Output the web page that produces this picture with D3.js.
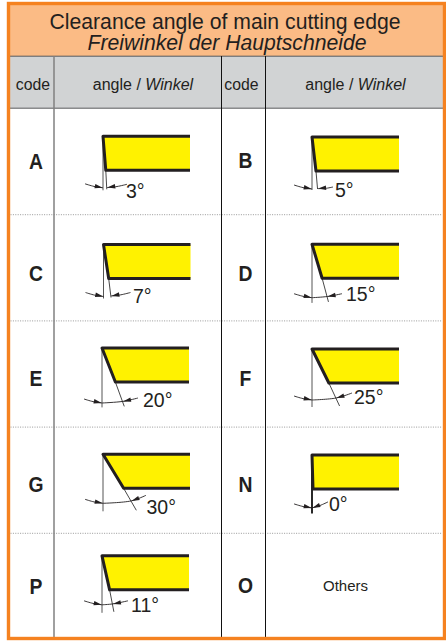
<!DOCTYPE html>
<html><head><meta charset="utf-8">
<script src="https://cdn.jsdelivr.net/npm/d3@7/dist/d3.min.js"></script>
<style>html,body{margin:0;padding:0;background:#fff}svg{display:block}text{font-family:"Liberation Sans",Arial,sans-serif;fill:#231f20}</style>
</head><body><svg id="c" width="446" height="642"></svg>
<script>
const titleEn = "Clearance angle of main cutting edge";
const titleDe = "Freiwinkel der Hauptschneide";
const headerCode = "code";
const headerAngleEn = "angle / ";
const headerAngleDe = "Winkel";
const codesLeft = ["A","C","E","G","P"];
const anglesLeft = [3,7,20,30,11];
const codesRight = ["B","D","F","N","O"];
const anglesRight = [5,15,25,0,null];
const otherLabel = "Others";

// drawing layout, per row [left cell, right cell]
const topNudge   = [[28.3,29],[30.3,30],[27.6,28.6],[27.7,28.3],[23,23]];
const arcDrop    = [[51.5,52],[52,53.5],[55,51],[49,53],[49,0]];
const lineLen    = [[54,53],[54,58.7],[59.4,58],[57,58.5],[57,0]];
const labelGap   = [[23,23],[29.5,34],[41,42],[43.5,17],[29,0]];
const baseDrop   = [[62,60],[58,57],[59,55],[60,56],[56,0]];
const tailRGap   = [[24,21],[27,30],[36,40],[43,16],[26,0]];
const tailRise   = [[3.5,2],[4,4],[5,7],[8,6],[4,0]];
const leftNudge  = [[0,0],[0.5,0],[-1,0],[0,0],[-1,0]];
const letterNudge = [[0,-1],[6,6],[4,4],[4,4],[0,-1]];
const shapeH = 34, shapeW = 87;

const svg = d3.select("#c");
const W0 = 8.5, W1 = 444.5, T0 = 3.5, B1 = 638.5;
const rows = d3.range(5);
const y = d3.scaleBand().domain(rows).range([108, 639]);
const xShape = d3.scaleOrdinal().domain([0,1]).range([103,312]);
const xCode = d3.scaleOrdinal().domain([0,1]).range([35.5,245]);
const xHeadAngle = d3.scaleOrdinal().domain([0,1]).range([143,355.5]);
const vLines = [[54,"#808080",1.5],[221.5,"#111",1],[265.5,"#111",1]];

svg.append("rect").attr("x",W0).attr("y",T0).attr("width",W1-W0).attr("height",52.5).attr("fill","#fbbb85");
svg.append("rect").attr("x",W0).attr("y",56).attr("width",W1-W0).attr("height",52).attr("fill","#d1d3d4");
svg.selectAll("line.h").data([56,108]).join("line").attr("x1",W0).attr("x2",W1).attr("y1",d=>d+.2).attr("y2",d=>d+.2).attr("stroke","#58595b").attr("stroke-width",1);
svg.selectAll("line.d").data(rows.slice(1)).join("line").attr("x1",W0+2).attr("x2",W1-2)
  .attr("y1",d=>y(d)+.5).attr("y2",d=>y(d)+.5).attr("stroke","#999").attr("stroke-width",1).attr("stroke-dasharray","1 1.4");
svg.selectAll("line.v").data(vLines).join("line").attr("x1",d=>d[0]).attr("x2",d=>d[0]).attr("y1",56).attr("y2",B1)
  .attr("stroke",d=>d[1]).attr("stroke-width",d=>d[2]);

svg.append("text").attr("x",225).attr("y",28.5).attr("text-anchor","middle").attr("font-size",21.2).text(titleEn);
svg.append("text").attr("x",227).attr("y",49.5).attr("text-anchor","middle").attr("font-size",21.2).attr("font-style","italic").text(titleDe);

[0,1].forEach(c=>{
  svg.append("text").attr("x",xCode(c)-2.5+(c?-1:0)).attr("y",90).attr("text-anchor","middle").attr("font-size",15.8).text(headerCode);
  const t = svg.append("text").attr("x",xHeadAngle(c)).attr("y",90).attr("text-anchor","middle").attr("font-size",16);
  t.append("tspan").text(headerAngleEn);
  t.append("tspan").attr("font-style","italic").text(headerAngleDe);
});

const curve = d3.line().curve(d3.curveCatmullRom.alpha(0.5));
const black = "#231f20";

function arrow(g, tip, from){
  const a = Math.atan2(from[1]-tip[1], from[0]-tip[0]), L=8, w=2.2;
  const bx=tip[0]+L*Math.cos(a), by=tip[1]+L*Math.sin(a);
  const nx=-Math.sin(a)*w, ny=Math.cos(a)*w;
  g.append("path").attr("d",d3.line()([tip,[bx+nx,by+ny],[bx-nx,by-ny]])+"Z").attr("fill",black);
}

rows.forEach(r=>{
  [0,1].forEach(c=>{
    const code = (c?codesRight:codesLeft)[r], ang = (c?anglesRight:anglesLeft)[r];
    const rowTop = y(r), rowMid = rowTop + y.bandwidth()/2;
    svg.append("text").attr("transform",`translate(${xCode(c)+.5},${rowMid+8+letterNudge[r][c]}) scale(.86,1)`).attr("text-anchor","middle")
      .attr("font-size",22.5).attr("font-weight","bold").text(code);
    if(ang===null){
      svg.append("text").attr("x",xHeadAngle(c)-10).attr("y",rowMid+5.5).attr("text-anchor","middle").attr("font-size",15).text(otherLabel);
      return;
    }
    const g = svg.append("g");
    const x0 = xShape(c)+leftNudge[r][c], t0 = rowTop+topNudge[r][c];
    const tan = Math.tan(ang*Math.PI/180), xR = x0+shapeW, b0 = t0+shapeH;
    const xB = x0+tan*shapeH+1;
    const slant = yy=>x0+1+tan*(yy-t0);
    g.append("path").attr("d",d3.line()([[x0,t0],[xR,t0],[xR,b0],[xB,b0]])+"Z").attr("fill","#fff200");
    // reference vertical and extension line
    const len = lineLen[r][c];
    g.append("line").attr("x1",x0).attr("x2",x0).attr("y1",t0).attr("y2",t0+len)
      .attr("stroke",ang===0?"#111":"#555").attr("stroke-width",ang===0?1.8:1);
    if(ang>0) g.append("line").attr("x1",xB).attr("y1",b0).attr("x2",slant(t0+len-1)).attr("y2",t0+len-1).attr("stroke","#333").attr("stroke-width",.9);
    // shape outline
    g.append("path").attr("d",d3.line()([[xR,t0],[x0,t0],[xB,b0],[xR,b0]])).attr("fill","none").attr("stroke","#231f20")
      .attr("stroke-width",3).attr("stroke-linejoin","round");
    // angle arc with arrows
    const ay = t0+arcDrop[r][c];
    const lift = 1.2*(ang/15);
    const tipL=[x0,ay];
    const tipR=[ang===0?x0:slant(ay-lift)+.3,ay-lift];
    const tailL=[x0-18,ay-4];
    const tailR=[x0+tailRGap[r][c],ay-tailRise[r][c]];
    const bow=(a,b)=>[(a[0]+b[0])/2,(a[1]+b[1])/2+.6];
    g.append("path").attr("d",curve([tailL,bow(tailL,tipL),tipL])).attr("fill","none").attr("stroke",black).attr("stroke-width",.9);
    g.append("path").attr("d",curve(ang>=10?[tipL,tipR,tailR]:[tipR,bow(tipR,tailR),tailR])).attr("fill","none").attr("stroke",black).attr("stroke-width",.9);
    arrow(g,[tipL[0]-.3,tipL[1]],tailL);
    arrow(g,[tipR[0]+.3,tipR[1]],tailR);
    // label
    g.append("text").attr("x",x0+labelGap[r][c]).attr("y",t0+baseDrop[r][c]).attr("font-size",19.5).text(ang+"°");
  });
});

// outer border
svg.append("rect").attr("x",W0).attr("y",T0).attr("width",W1-W0).attr("height",B1-T0).attr("fill","none").attr("stroke","#f58220").attr("stroke-width",3.4);
</script></body></html>
